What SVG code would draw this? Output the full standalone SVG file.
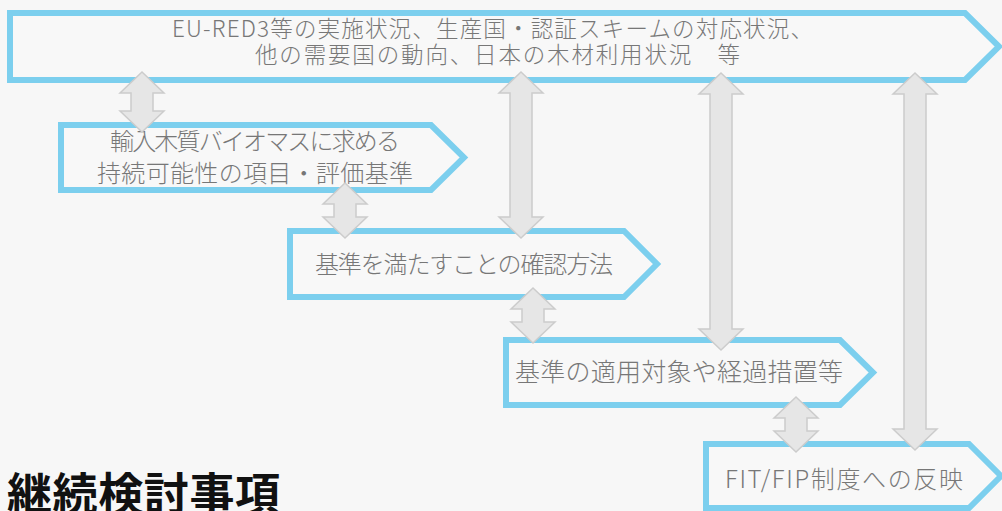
<svg xmlns="http://www.w3.org/2000/svg" width="1002" height="511" viewBox="0 0 1002 511">
<style>
.box{fill:#f8f8f8;stroke:#7ccfee;stroke-width:6;stroke-linejoin:miter}
.arr{fill:#e6e6e6;stroke:#cccccc;stroke-width:1.5;stroke-linejoin:miter}
.t{font-family:"Noto Sans CJK JP","Noto Sans",sans-serif;font-size:24px;font-weight:300;fill:#777777}
.title{font-family:"Noto Sans CJK JP","Noto Sans",sans-serif;font-size:45px;font-weight:bold;fill:#111111}
</style>
<rect x="0" y="0" width="1002" height="511" fill="#f7f7f7"/>
<g id="node1">
<path class="box" d="M10,13 L965,13 L999,46.5 L965,80 L10,80 Z"/>
<text class="t" x="172" y="37" textLength="641" style="font-size:22.5px">EU-RED3等の実施状況、生産国・認証スキームの対応状況、</text>
<text class="t" x="255" y="62.5" textLength="485" style="font-size:22.5px">他の需要国の動向、日本の木材利用状況　等</text>
</g>
<g id="node2">
<path class="box" d="M61,125 L431,125 L464,157.5 L431,190 L61,190 Z"/>
<text class="t" x="110" y="150" textLength="290">輸入木質バイオマスに求める</text>
<text class="t" x="97" y="182" textLength="316">持続可能性の項目・評価基準</text>
</g>
<g id="node3">
<path class="box" d="M290,231 L624,231 L657,264 L624,297 L290,297 Z"/>
<text class="t" x="315" y="273" textLength="298">基準を満たすことの確認方法</text>
</g>
<g id="node4">
<path class="box" d="M506,340 L840,340 L873,372.5 L840,405 L506,405 Z"/>
<text class="t" x="515" y="381" textLength="328" style="font-size:25px">基準の適用対象や経過措置等</text>
</g>
<g id="node5">
<path class="box" d="M706,444 L969,444 L1001,476 L969,508 L706,508 Z"/>
<text class="t" x="725" y="488" textLength="238">FIT/FIP制度への反映</text>
</g>
<g id="title">
<text class="title" x="7" y="511" textLength="273">継続検討事項</text>
</g>
<g id="connectors">
<path class="arr" d="M142,72 L164,93 L153,93 L153,111 L164,111 L142,132 L120,111 L131,111 L131,93 L120,93 Z"/>
<path class="arr" d="M345,183 L367,204 L356,204 L356,217 L367,217 L345,238 L323,217 L334,217 L334,204 L323,204 Z"/>
<path class="arr" d="M533,288 L555,309 L544,309 L544,322 L555,322 L533,343 L511,322 L522,322 L522,309 L511,309 Z"/>
<path class="arr" d="M796,397 L818,418 L807,418 L807,431 L818,431 L796,452 L774,431 L785,431 L785,418 L774,418 Z"/>
<path class="arr" d="M521,72 L543,93 L532,93 L532,217 L543,217 L521,238 L499,217 L510,217 L510,93 L499,93 Z"/>
<path class="arr" d="M721,73 L743,94 L732,94 L732,329 L743,329 L721,350 L699,329 L710,329 L710,94 L699,94 Z"/>
<path class="arr" d="M915,73 L937,94 L926,94 L926,429 L937,429 L915,450 L893,429 L904,429 L904,94 L893,94 Z"/>
</g>
</svg>
